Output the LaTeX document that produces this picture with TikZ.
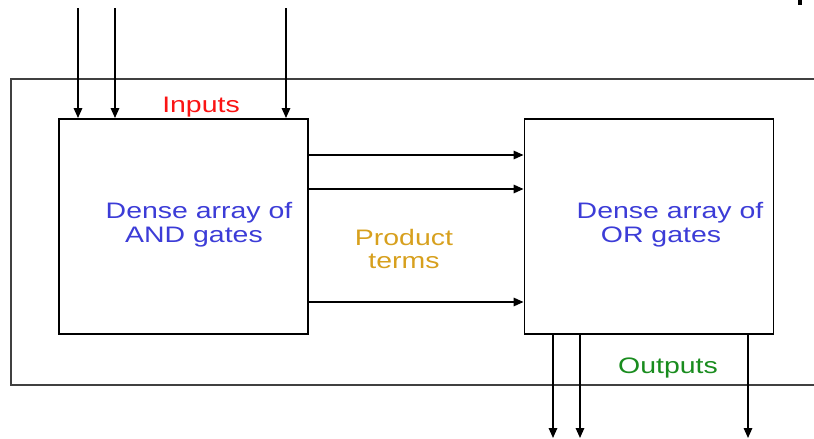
\documentclass[tikz,border=0pt]{standalone}
\usepackage{fontspec}
\setmainfont{Liberation Sans}
\usetikzlibrary{arrows.meta}
\definecolor{lblblue}{RGB}{60,60,215}
\definecolor{lblred}{RGB}{250,20,20}
\definecolor{lblgold}{RGB}{215,160,30}
\definecolor{lblgreen}{RGB}{25,140,30}
\newcommand\widetext[1]{\scalebox{1.27}[1]{#1}}
\tikzset{
  block/.style={draw=black, line width=1.9pt, minimum width=249pt, minimum height=215pt, inner sep=0pt},
  frame/.style={draw=black!75, line width=2.2pt},
  sig/.style={line width=1.6pt, -{Triangle[length=10pt,width=8.5pt]}},
  lbl/.style={font=\fontsize{22.4}{24}\selectfont, anchor=base, inner sep=0pt},
}
\begin{document}
\begin{tikzpicture}[x=1pt,y=-1pt]
\useasboundingbox (0,0) rectangle (814,439);
% enclosing device outline, open towards the right
\draw[frame] (820,79) -- (11,79) -- (11,385) -- (820,385);
% the two arrays
\node[block] (andarr) at (183.5,226.5) {};
\node[block] (orarr) at (649,226.5) {};
% input lines
\coordinate (in1) at (78,8);
\coordinate (in2) at (115,8);
\coordinate (in3) at (286,8);
\foreach \c in {in1,in2,in3}
  \draw[sig] (\c) -- (\c |- andarr.north);
% product term lines
\foreach \yy in {155,189,302}
  \draw[sig] (andarr.east |- 0,\yy) -- (orarr.west |- 0,\yy);
% output lines
\coordinate (out1) at (553,438);
\coordinate (out2) at (580,438);
\coordinate (out3) at (748,438);
\foreach \c in {out1,out2,out3}
  \draw[sig] (\c |- orarr.south) -- (\c);
% small mark in the top right corner
\fill[black] (797.5,0) rectangle (802,5);
% labels
\node[lbl, text=lblred] (inputs) at (201,112) {\widetext{Inputs}};
\node[lbl, text=lblblue] (and1) at (199,218) {\widetext{Dense array of}};
\node[lbl, text=lblblue] (and2) at (194,242) {\widetext{AND gates}};
\node[lbl, text=lblgold] (prod1) at (404,245) {\widetext{Product}};
\node[lbl, text=lblgold] (prod2) at (404,268) {\widetext{terms}};
\node[lbl, text=lblblue] (or1) at (670,218) {\widetext{Dense array of}};
\node[lbl, text=lblblue] (or2) at (661,242) {\widetext{OR gates}};
\node[lbl, text=lblgreen] (outputs) at (668,373) {\widetext{Outputs}};
\end{tikzpicture}
\end{document}
